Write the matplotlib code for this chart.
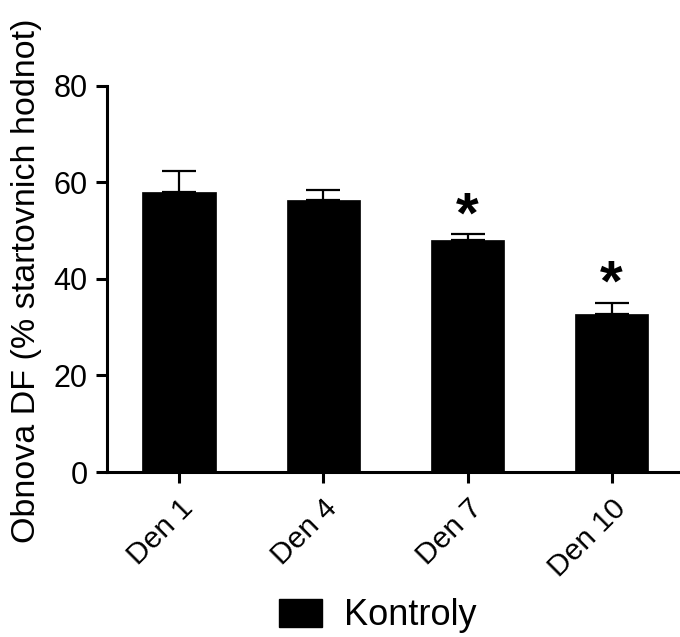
import matplotlib
matplotlib.use("Agg")
import matplotlib.pyplot as plt
import matplotlib.transforms as mtransforms
from matplotlib.patches import Patch

plt.rcParams['font.family'] = ['Liberation Sans', 'DejaVu Sans']

categories = ["Den 1", "Den 4", "Den 7", "Den 10"]
values = [58.0, 56.3, 48.1, 32.7]
errors = [4.4, 2.0, 1.1, 2.4]
significant = [False, False, True, True]
series_name = "Kontroly"

fig = plt.figure(figsize=(6.8, 6.37), dpi=100)
ax = fig.add_axes([107/680, 165/637, (680-107)/680, 386.3/637])

x = list(range(len(categories)))
ax.bar(x, values, width=0.51, color='black', edgecolor='black', linewidth=0.5)
ax.errorbar(x, values, yerr=[[0]*len(errors), errors], fmt='none', ecolor='black',
            elinewidth=1.6, capsize=12.5, capthick=1.6)

for xi, v, e, s in zip(x, values, errors, significant):
    if s:
        ax.annotate('*', xy=(xi, v + e), xytext=(0, -7), textcoords='offset points',
                    ha='center', va='bottom', fontsize=42, fontweight='bold')

ax.set_xlim(-0.5, -0.5 + (680-107)/144.2)
ax.set_ylim(0, 80)
ax.set_yticks([0, 20, 40, 60, 80])
ax.set_xticks(x)
ax.set_xticklabels(categories, rotation=45, ha='right', rotation_mode='anchor', fontsize=21.5)
offset = mtransforms.ScaledTranslation(-8/100, 4/100, fig.dpi_scale_trans)
for lbl in ax.get_xticklabels():
    lbl.set_transform(lbl.get_transform() + offset)
ax.tick_params(axis='y', labelsize=22, length=8, width=2.2, pad=6)
ax.tick_params(axis='x', length=8, width=2.2, pad=8)
for sp in ['top', 'right']:
    ax.spines[sp].set_visible(False)
for sp in ['left', 'bottom']:
    ax.spines[sp].set_linewidth(2.2)
ax.set_ylabel("Obnova DF (% startovnich hodnot)", fontsize=24.5)
ax.yaxis.set_label_coords(-0.113, 0.495)

fig.legend(handles=[Patch(facecolor='black', edgecolor='black', label=series_name)],
           loc='center', bbox_to_anchor=(0.555, 0.033), frameon=False, fontsize=26,
           handlelength=1.2, handleheight=0.8, handletextpad=0.6)

fig.savefig("out.png", dpi=100)
